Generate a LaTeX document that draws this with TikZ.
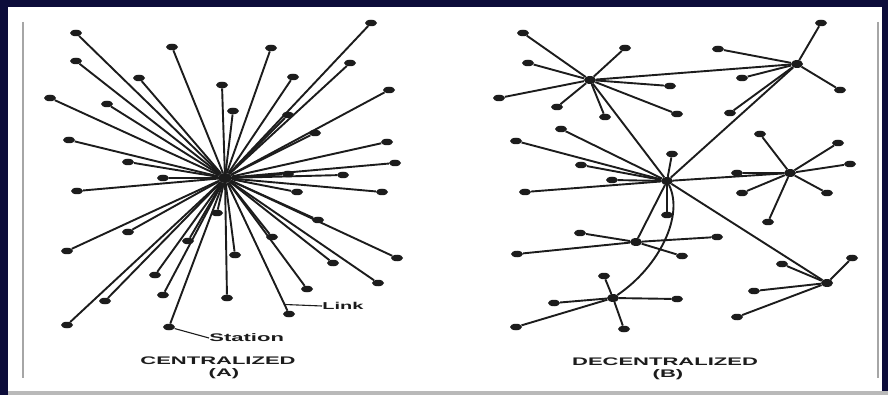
\documentclass[tikz,border=0pt]{standalone}
\usepackage{fontspec}
\setsansfont{Liberation Sans}
\usetikzlibrary{shapes.geometric, calc}
\definecolor{navy}{RGB}{12,12,58}
\definecolor{ink}{RGB}{28,28,28}
\tikzset{
  station/.style={ellipse, fill=ink, inner sep=0pt, minimum width=12pt, minimum height=6.5pt},
  hub/.style={station, minimum width=12pt, minimum height=8pt},
  link/.style={draw=ink, line width=1.9pt},
  pointer/.style={draw=ink, line width=1.1pt},
  caption/.style={font=\sffamily\bfseries\fontsize{11}{11}\selectfont, text=ink, xscale=2, inner sep=0pt}
}

\begin{document}
\begin{tikzpicture}[x=1pt, y=-1pt]
  \useasboundingbox (0,0) rectangle (888,395);
  % Rahmen
  \fill[navy] (0,0) rectangle (888,395);
  \fill[white] (8,7) rectangle (882,391);
  \fill[gray!55] (8,391) rectangle (888,395);
  \draw[gray!70, line width=1.2pt] (23,22) -- (23,378);
  \draw[gray!70, line width=1.2pt] (878,22) -- (878,378);

  % Centralized (A)
  \node[hub, minimum width=14pt, minimum height=10pt] (c) at (225,178) {};
  \foreach \p [count=\i] in {(76,33),(172,47),(271,48),(76,61),(139,78),(222,85),(293,77),
      (371,23),(350,63),(50,98),(107,104),(233,111),(288,115),(389,90),(315,133),(69,140),
      (387,142),(128,162),(395,163),(163,178),(288,174),(343,175),(77,191),(297,192),
      (382,192),(217,213),(318,220),(128,232),(67,251),(188,241),(272,237),(235,255),
      (397,258),(333,263),(155,275),(163,295),(227,298),(105,301),(307,289),(378,283),(67,325)}
  {
    \node[station] (s\i) at \p {};
    \draw[link] (c) -- (s\i);
  }
  \node[station] (st) at (169,327) {};
  \node[station] (lk) at (289,314) {};
  \draw[link] (c) -- (st);
  \draw[link] (c) -- (lk);
  % Beschriftung
  \node[caption, anchor=west] (stlabel) at (209,338) {Station};
  \draw[pointer] (st) -- (stlabel.west);
  \coordinate (lkpt) at ($(c)!0.93!(lk)$);
  \node[caption, font=\sffamily\bfseries\fontsize{10}{10}\selectfont, anchor=west] (lklabel) at (322,306) {Link};
  \draw[pointer] (lkpt) -- (lklabel.west);
  \node[caption] (capA) at (218,361) {CENTRALIZED};
  \node[caption] (capAb) at (224,374) {(A)};

  % Decentralized (B)
  \node[hub] (h1) at (590,80) {};
  \node[hub] (h2) at (797,64) {};
  \node[hub] (h3) at (667,181) {};
  \node[hub] (h4) at (790,173) {};
  \node[hub] (h5) at (636,242) {};
  \node[hub] (h6) at (613,298) {};
  \node[hub] (h7) at (827,283) {};
  \draw[link] (h1) -- (h2);
  \draw[link] (h1) -- (h3);
  \draw[link] (h2) -- (h3);
  \draw[link] (h3) -- (h4);
  \draw[link] (h3) -- (h5);
  \draw[link] (h3) -- (h7);
  \draw[link] (h6) .. controls (660,266) and (684,215) .. (h3);
  \foreach \p [count=\i] in {(523,33),(625,48),(528,63),(499,98),(557,107),(605,117),(670,86),(677,114)}
    { \node[station] (a\i) at \p {}; \draw[link] (h1) -- (a\i); }
  \foreach \p [count=\i] in {(821,23),(718,49),(742,78),(840,90),(730,113)}
    { \node[station] (b\i) at \p {}; \draw[link] (h2) -- (b\i); }
  \foreach \p [count=\i] in {(561,129),(516,141),(581,165),(612,180),(525,192),(672,154),(667,215)}
    { \node[station] (d\i) at \p {}; \draw[link] (h3) -- (d\i); }
  \foreach \p [count=\i] in {(760,134),(838,143),(850,164),(737,173),(742,193),(827,193),(768,222)}
    { \node[station] (e\i) at \p {}; \draw[link] (h4) -- (e\i); }
  \foreach \p [count=\i] in {(580,233),(517,254),(717,237),(682,256)}
    { \node[station] (f\i) at \p {}; \draw[link] (h5) -- (f\i); }
  \foreach \p [count=\i] in {(604,276),(554,303),(516,327),(624,329),(677,299)}
    { \node[station] (g\i) at \p {}; \draw[link] (h6) -- (g\i); }
  \foreach \p [count=\i] in {(852,258),(782,264),(754,291),(737,317)}
    { \node[station] (k\i) at \p {}; \draw[link] (h7) -- (k\i); }
  \node[caption] (capB) at (665,362) {DECENTRALIZED};
  \node[caption] (capBb) at (668,375) {(B)};
\end{tikzpicture}
\end{document}
